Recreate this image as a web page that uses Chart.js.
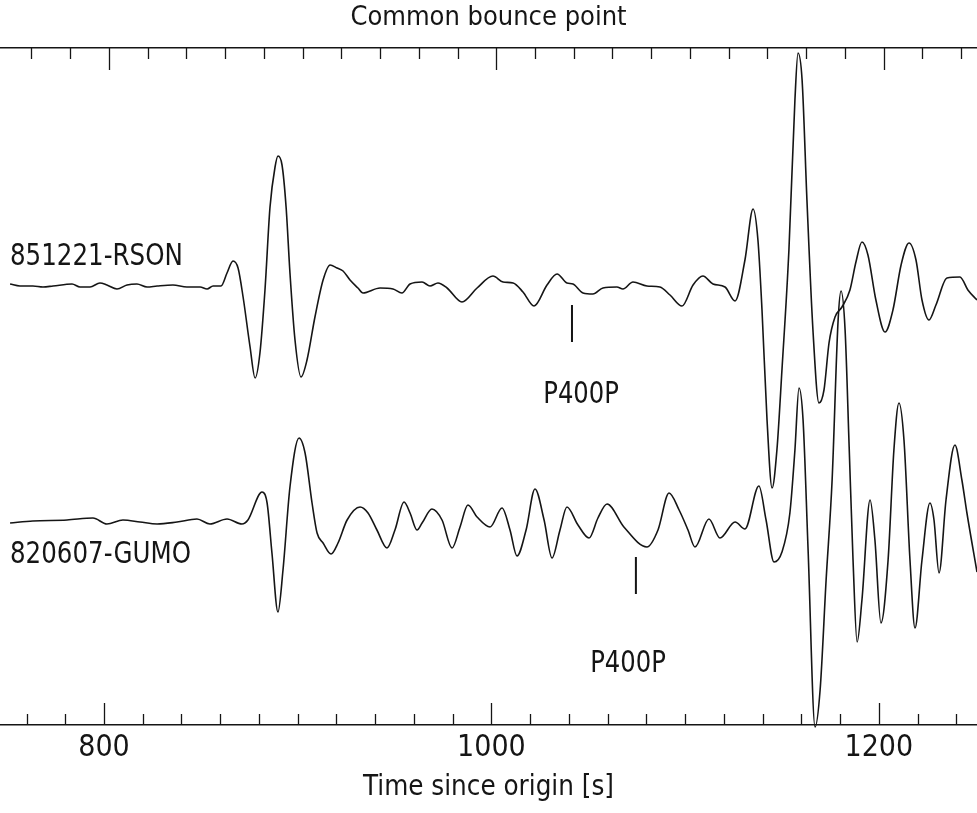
<!DOCTYPE html>
<html lang="en">
<head>
<meta charset="UTF-8">
<title>Common bounce point</title>
<style>
  body { margin: 0; background: #fff; }
  #chart { display: block; }
</style>
</head>
<body>
<canvas id="chart" width="977" height="813"></canvas>
<script src="https://cdn.jsdelivr.net/npm/chart.js"></script>
<script>
// station names and picked P400P arrival times [s]
const traceNames = ["851221-RSON", "820607-GUMO"];
const phaseName = "P400P";
const phasePicks = [1041.6, 1074.6];
const majorTicks = [800, 1000, 1200];

// trace 1 (851221-RSON): time [s] and amplitude
const times1 = [751.5, 756.6, 763.3, 768.5, 773.7, 783.5, 787.6, 792.8, 797.9, 801.5, 806.7, 811.9, 817.0, 822.2, 827.4,
  835.6, 842.8, 849.6, 853.2, 856.3, 860.4, 863.5, 866.6, 869.2, 871.8, 875.4, 878.0, 880.5, 883.1, 885.7, 888.3, 889.8,
  891.9, 894.0, 896.0, 898.6, 901.7, 904.8, 908.9, 913.1, 916.7, 920.3, 923.4, 927.0, 931.1, 933.7, 942.5, 949.2, 953.8,
  958.0, 964.2, 968.3, 972.4, 977.1, 984.8, 992.6, 1000.8, 1006.0, 1011.2, 1016.3, 1022.0, 1028.7, 1033.9, 1039.0,
  1042.1, 1047.3, 1052.4, 1057.6, 1064.8, 1067.9, 1073.1, 1080.3, 1087.0, 1092.2, 1098.4, 1104.1, 1109.2, 1114.4,
  1120.6, 1125.8, 1130.9, 1135.1, 1137.6, 1139.7, 1142.3, 1144.9, 1147.4, 1150.0, 1153.6, 1156.7, 1158.3, 1160.4,
  1162.9, 1166.0, 1169.1, 1171.7, 1174.3, 1177.4, 1181.0, 1185.1, 1188.2, 1191.3, 1194.4, 1198.5, 1203.2, 1207.3,
  1211.5, 1215.6, 1219.2, 1222.3, 1225.9, 1229.5, 1235.2, 1241.9, 1246.0, 1250.7];
const amp1 = [3, 1, 1, 0, 1, 3, 0, 0, 4, 2, -2, 2, 3, 0, 1,
  2, 0, 0, -2, 1, 1, 14, 26, 19, -10, -60, -91, -66, -3, 80, 120, 131,
  122, 80, 14, -53, -90, -73, -30, 7, 22, 19, 16, 7, -1, -6, -1, -2, -6,
  3, 5, 1, 4, -1, -15, -1, 11, 5, 4, -5, -19, 2, 13, 4,
  3, -6, -7, -1, 0, -2, 5, 1, 0, -8, -19, 2, 11, 3,
  0, -14, 27, 78, 47, -23, -133, -201, -163, -83, 37, 187, 234, 207,
  87, -43, -116, -103, -56, -30, -20, -3, 25, 45, 32, -13, -45, -23,
  22, 44, 27, -13, -33, -18, 9, 10, -3, -13];

// trace 2 (820607-GUMO): time [s] and amplitude
const times2 = [751.5, 763.3, 780.9, 794.3, 801.5, 809.8, 818.6, 827.4, 837.7, 848.0, 854.7, 863.5, 871.2, 874.3,
  881.6, 884.2, 886.7, 889.8, 892.4, 896.0, 900.7, 903.8, 907.4, 910.0, 913.1, 917.2, 920.8, 925.5, 932.2, 936.3,
  940.9, 946.1, 950.2, 954.9, 958.0, 961.6, 964.2, 969.3, 974.5, 979.7, 983.8, 987.9, 992.6, 999.3, 1005.5, 1009.6,
  1013.2, 1017.9, 1022.5, 1027.2, 1031.3, 1035.4, 1039.0, 1044.7, 1050.4, 1055.0, 1059.7, 1068.4, 1080.3, 1086.0,
  1091.7, 1096.9, 1101.5, 1105.1, 1112.3, 1118.0, 1125.8, 1130.9, 1138.1, 1141.8, 1145.9, 1150.0, 1154.1, 1156.7,
  1158.8, 1160.9, 1163.5, 1167.1, 1169.7, 1172.8, 1175.9, 1179.0, 1180.5, 1182.6, 1184.7, 1186.7, 1188.8, 1191.3,
  1195.5, 1198.0, 1201.1, 1204.8, 1207.8, 1210.4, 1213.0, 1216.1, 1218.7, 1222.3, 1226.4, 1228.5, 1231.1, 1234.7,
  1239.3, 1242.9, 1245.5, 1250.7];
const amp2 = [-1, 1, 2, 4, -2, 2, 0, -2, 0, 3, -2, 3, -2, 2,
  30, 19, -31, -90, -48, 35, 84, 69, 19, -11, -21, -32, -21, 2, 15, 9,
  -8, -26, -8, 20, 9, -8, -1, 13, 2, -26, -5, 17, 5, -5, 14, -8,
  -34, -8, 33, 2, -36, -8, 15, -3, -16, 4, 18, -5, -25, -8,
  29, 12, -8, -25, 3, -16, 0, -7, 36, 2, -40, -30, 9, 72,
  134, 102, -28, -205, -168, -58, 42, 202, 231, 192, 75, -38, -120, -78,
  22, -18, -101, -38, 72, 119, 82, -38, -106, -38, 19, 2, -51, 22,
  77, 42, 9, -50];

const traceOffsets = [235, 0];
const ink = "#151515";
const fontFamily = "'Liberation Sans Narrow', 'DejaVu Sans Condensed', sans-serif";

function traceData(times, amps, offset) {
  return times.map((t, i) => ({ x: t, y: amps[i] + offset }));
}

const datasets = [
  { data: traceData(times1, amp1, traceOffsets[0]) },
  { data: traceData(times2, amp2, traceOffsets[1]) },
].map(d => Object.assign(d, {
  borderColor: ink, borderWidth: 1.6, pointRadius: 0,
  cubicInterpolationMode: "monotone", clip: false,
}));

// short vertical bars marking the P400P picks
phasePicks.forEach((t, i) => {
  datasets.push({
    data: [{ x: t, y: traceOffsets[i] - 18 - i * 17 }, { x: t, y: traceOffsets[i] - 55 - i * 17 }],
    borderColor: ink, borderWidth: 2, pointRadius: 0,
  });
});

// narrow text: squeeze horizontally around the anchor point
function narrowText(ctx, text, x, y, size, squeeze) {
  ctx.save();
  ctx.translate(x, y);
  ctx.scale(squeeze, 1);
  ctx.font = size + "px " + fontFamily;
  ctx.fillText(text, 0, 0);
  ctx.restore();
}

// inward tick marks + text labels
const decorations = {
  id: "decorations",
  afterDraw(chart) {
    const { ctx, chartArea, scales } = chart;
    ctx.save();
    ctx.strokeStyle = ink;
    ctx.lineWidth = 1.3;
    [["x", chartArea.bottom, -1], ["x2", chartArea.top, 1]].forEach(([id, y0, dir]) => {
      const s = scales[id];
      s.ticks.forEach(tk => {
        const px = Math.round(s.getPixelForValue(tk.value)) + 0.5;
        const len = majorTicks.includes(tk.value) ? 22 : 11;
        ctx.beginPath();
        ctx.moveTo(px, y0);
        ctx.lineTo(px, y0 + dir * len);
        ctx.stroke();
      });
    });

    const y = scales.y, x = scales.x;
    ctx.fillStyle = ink;
    ctx.textBaseline = "middle";
    ctx.textAlign = "left";
    narrowText(ctx, traceNames[0], chartArea.left + 10, y.getPixelForValue(traceOffsets[0] + 30), 31, 0.88);
    narrowText(ctx, traceNames[1], chartArea.left + 10, y.getPixelForValue(traceOffsets[1] - 33), 31, 0.88);
    ctx.textAlign = "center";
    narrowText(ctx, phaseName, x.getPixelForValue(1046.3), y.getPixelForValue(traceOffsets[0] - 108), 30, 0.9);
    narrowText(ctx, phaseName, x.getPixelForValue(1070.5), y.getPixelForValue(traceOffsets[1] - 142), 30, 0.9);
    ctx.restore();
  },
};

new Chart(document.getElementById("chart"), {
  type: "line",
  data: { datasets },
  options: {
    responsive: false,
    devicePixelRatio: 1,
    animation: false,
    layout: { padding: 0 },
    plugins: { legend: { display: false }, tooltip: { enabled: false } },
    scales: {
      x: {
        type: "linear", position: "bottom", min: 746.3, max: 1250.7,
        afterFit: s => { s.height = 88; },
        grid: { drawOnChartArea: false, drawTicks: false },
        border: { display: true, color: ink, width: 1.5 },
        ticks: {
          stepSize: 20, includeBounds: false, autoSkip: false, maxRotation: 0, maxTicksLimit: 100,
          padding: 5, color: ink, font: { family: fontFamily, size: 30 },
          callback: v => majorTicks.includes(v) ? String(v) : "",
        },
        title: {
          display: true, text: "Time since origin [s]", color: ink,
          font: { family: fontFamily, size: 27.5 }, padding: { top: 0, bottom: 9 },
        },
      },
      x2: {
        type: "linear", position: "top", min: 743.8, max: 1248.2,
        afterFit: s => { s.height = 48; },
        grid: { drawOnChartArea: false, drawTicks: false },
        border: { display: true, color: ink, width: 1.5 },
        ticks: { stepSize: 20, includeBounds: false, autoSkip: false, maxTicksLimit: 100, display: false },
        title: {
          display: true, text: "Common bounce point", color: ink,
          font: { family: fontFamily, size: 27 }, padding: { top: 2, bottom: 0 },
        },
      },
      y: { display: false, min: -203, max: 474 },
    },
  },
  plugins: [decorations],
});
</script>
</body>
</html>
